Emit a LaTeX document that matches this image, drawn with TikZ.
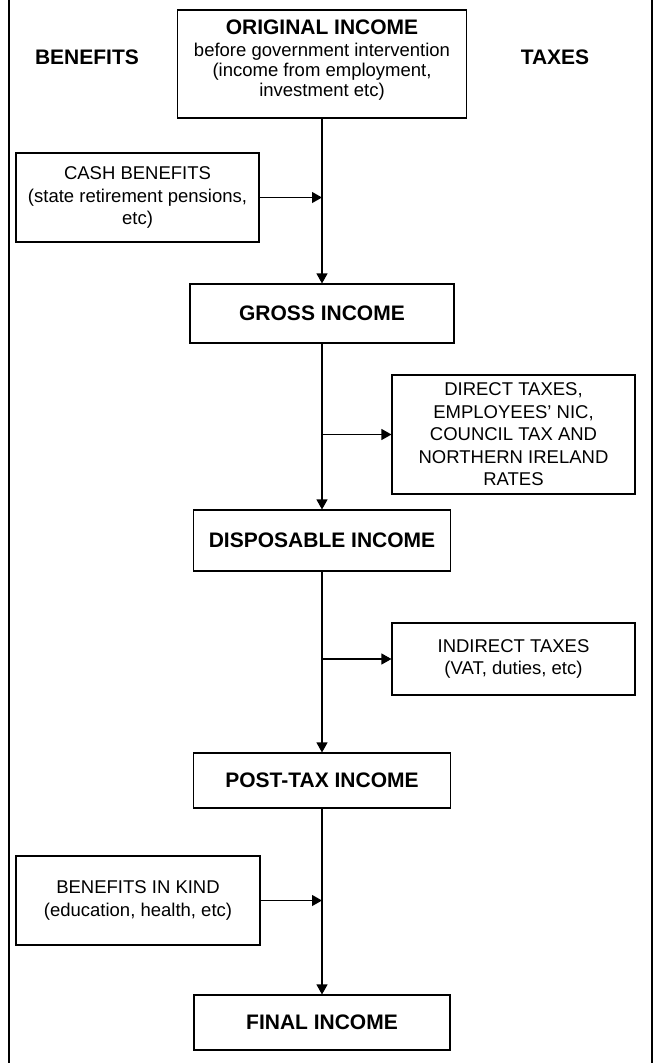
\documentclass[tikz,border=0pt]{standalone}
\usepackage{fontspec}
\setmainfont{Liberation Sans}
\usetikzlibrary{arrows.meta}

\begin{document}
\begin{tikzpicture}[
  x=1pt, y=-1pt,
  font=\fontsize{18.5}{22.5}\selectfont,
  box/.style={rectangle,draw=black,line width=1.1pt,align=center,inner sep=0pt},
  head/.style={font=\fontsize{21}{24}\selectfont\bfseries},
  flow/.style={line width=1.1pt,-{Triangle[length=10pt,width=11pt]}},
]
\useasboundingbox (0,0) rectangle (657,1063);
\draw[line width=1.3pt] (9,0) -- (9,1063);
\draw[line width=1.3pt] (652,0) -- (652,1063);

\node[head] (benefits) at (87,57) {BENEFITS};
\node[head] (taxes) at (555,57) {TAXES};

\node[box,font=\fontsize{18.5}{20}\selectfont,minimum width=289pt,minimum height=108pt] (orig) at (322,64)
  {{\fontsize{21}{24}\selectfont\bfseries ORIGINAL INCOME}\\[2.5pt] before government intervention\\ (income from employment,\\ investment etc)\rule[-12pt]{0pt}{12pt}};
\node[box,minimum width=243pt,minimum height=89pt] (cash) at (137.5,197.5)
  {CASH BENEFITS\\ (state retirement pensions,\\ etc)};
\node[box,head,minimum width=264pt,minimum height=59pt] (gross) at (322,313.5) {GROSS INCOME};
\node[box,minimum width=243pt,minimum height=119pt] (direct) at (513.5,434.5)
  {DIRECT TAXES,\\ EMPLOYEES’ NIC,\\ COUNCIL TAX AND\\ NORTHERN IRELAND\\ RATES};
\node[box,head,minimum width=257pt,minimum height=61pt] (disp) at (322,540.5) {DISPOSABLE INCOME};
\node[box,minimum width=243pt,minimum height=72pt] (indirect) at (513.5,659)
  {INDIRECT TAXES\\ (VAT, duties, etc)};
\node[box,head,minimum width=257pt,minimum height=55pt] (post) at (322,780.5) {POST-TAX INCOME};
\node[box,minimum width=244pt,minimum height=89pt] (kind) at (138,900.5)
  {BENEFITS IN KIND\\ (education, health, etc)};
\node[box,head,minimum width=256pt,minimum height=55pt] (final) at (322,1022.5) {FINAL INCOME};

% main flow
\draw[flow] (orig) -- (gross);
\draw[flow] (gross) -- (disp);
\draw[flow] (disp) -- (post);
\draw[flow] (post) -- (final);

% benefits in, taxes out
\draw[flow] (cash.east) -- (cash.east -| orig.south);
\draw[flow] (direct.west -| gross.south) -- (direct.west);
\draw[flow] (indirect.west -| disp.south) -- (indirect.west);
\draw[flow] (kind.east) -- (kind.east -| post.south);
\end{tikzpicture}
\end{document}
